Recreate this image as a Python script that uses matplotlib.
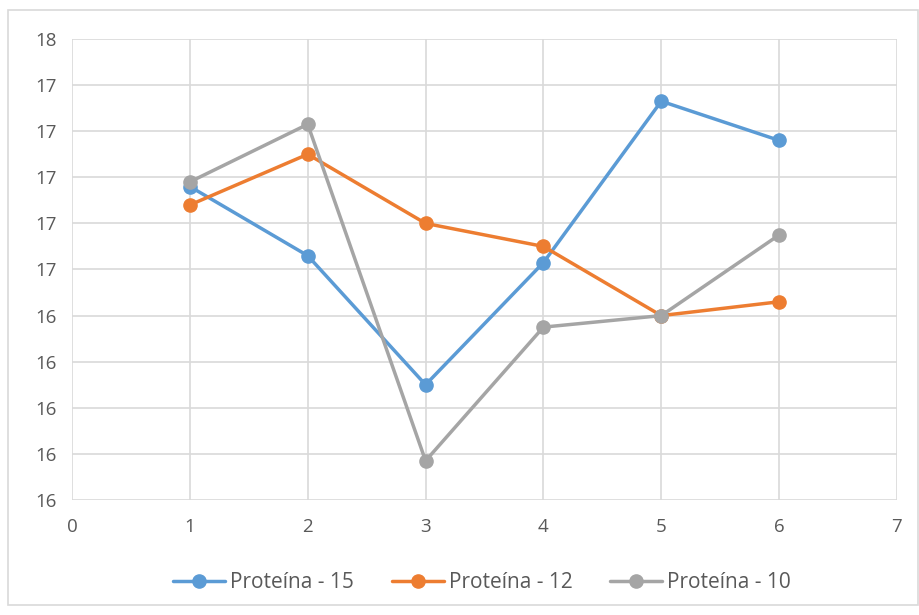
import matplotlib
matplotlib.use('Agg')
import matplotlib.pyplot as plt
from matplotlib.patches import Rectangle
from matplotlib.ticker import MultipleLocator, FormatStrFormatter

# data
x_vals = [1, 2, 3, 4, 5, 6]
prot_15 = [16.96, 16.66, 16.10, 16.63, 17.33, 17.16]
prot_12 = [16.88, 17.10, 16.80, 16.70, 16.40, 16.46]
prot_10 = [16.98, 17.23, 15.77, 16.35, 16.40, 16.75]
series_names = ['Proteína - 15', 'Proteína - 12', 'Proteína - 10']
series_colors = ['#5B9BD5', '#ED7D31', '#A5A5A5']

plt.rcParams['font.family'] = ['Open Sans', 'DejaVu Sans']

fig = plt.figure(figsize=(9.19, 6.15), dpi=100)
ax = fig.add_axes([72 / 919, 115 / 615, 825 / 919, 461 / 615])

for ys, name, col in zip([prot_15, prot_12, prot_10], series_names, series_colors):
    ax.plot(x_vals, ys, color=col, lw=2.5, marker='o', ms=9.5, label=name,
            solid_capstyle='round', zorder=3)

ax.set_xlim(0, 7)
ax.set_ylim(15.6, 17.6)
ax.xaxis.set_major_locator(MultipleLocator(1))
ax.yaxis.set_major_locator(MultipleLocator(0.2))
ax.yaxis.set_major_formatter(FormatStrFormatter('%.0f'))
ax.grid(True, color='#D9D9D9', lw=1.2)
ax.set_axisbelow(True)
for s in ax.spines.values():
    s.set_visible(False)
ax.tick_params(length=0, labelsize=13.5, labelcolor='#595959', pad=11)
ax.tick_params(axis='x', pad=13)

# chart outer border
fig.patches.append(Rectangle((8 / 919, 1 - 605 / 615), 910 / 919, 595 / 615,
                             transform=fig.transFigure, fill=False,
                             edgecolor='#D9D9D9', lw=1.2))

fig.legend(loc='center', bbox_to_anchor=(482 / 919, 1 - 583 / 615), ncol=3,
           frameon=False, fontsize=15, labelcolor='#595959',
           handlelength=2.5, handletextpad=0.25, columnspacing=1.8)

fig.savefig('out.png', dpi=100)
